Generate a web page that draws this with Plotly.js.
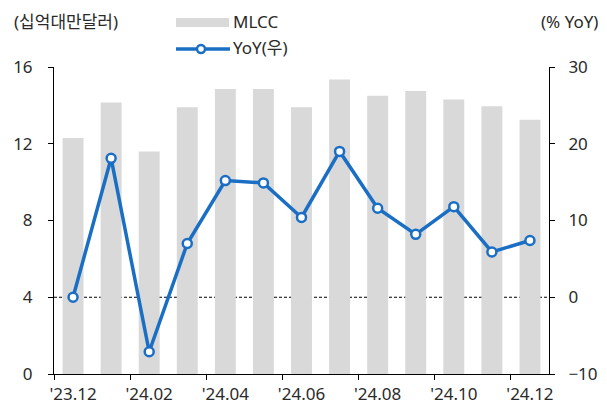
<!DOCTYPE html>
<html>
<head>
<meta charset="utf-8">
<script src="https://cdn.plot.ly/plotly-3.0.1.min.js"></script>
<style>
  html, body { margin: 0; padding: 0; background: #fff; }
  #chart { width: 607px; height: 405px; }
</style>
</head>
<body>
<div id="chart"></div>
<script>
// Monthly MLCC revenue (billion TWD) and its year-over-year change (%)
const months = ["'23.12", "'24.01", "'24.02", "'24.03", "'24.04", "'24.05", "'24.06",
                "'24.07", "'24.08", "'24.09", "'24.10", "'24.11", "'24.12"];
const mlcc = [12.3, 14.15, 11.6, 13.9, 14.85, 14.85, 13.9, 15.35, 14.5, 14.75, 14.3, 13.95, 13.25];
const yoy  = [0.0, 18.1, -7.1, 7.0, 15.2, 14.9, 10.4, 19.0, 11.6, 8.2, 11.8, 5.9, 7.4];

const FONT = '"Noto Sans", "Noto Sans CJK KR", sans-serif';
const BLUE = '#1a6fc4';
const GREY = '#d9d9d9';
const TXT = '#2a2a2a';
const FS = 17;
const tf = () => ({ family: FONT, size: FS, color: TXT, weight: 400 });

const traces = [
  {
    type: 'bar', name: 'MLCC', x: months, y: mlcc, yaxis: 'y',
    marker: { color: GREY }, showlegend: false
  },
  {
    type: 'scatter', mode: 'lines+markers', name: 'YoY(우)', x: months, y: yoy, yaxis: 'y2',
    line: { color: BLUE, width: 3.5 },
    marker: { color: '#ffffff', size: 9, line: { color: BLUE, width: 2.5 } },
    showlegend: false
  }
];

// Hand-placed legend (paper coordinates)
const px = (v) => (v - 54) / 495;      // pixel x -> paper x
const py = (v) => (374 - v) / 307;     // pixel y -> paper y

const layout = {
  width: 607, height: 405,
  margin: { l: 54, r: 58, t: 67, b: 31 },
  paper_bgcolor: '#ffffff', plot_bgcolor: '#ffffff',
  font: tf(),
  showlegend: false,
  bargap: 0.45,
  xaxis: {
    type: 'category', range: [-0.5, 12.5], automargin: false,
    tickmode: 'linear', tick0: 0, dtick: 2, tickangle: 0,
    tickson: 'boundaries', ticks: 'outside', ticklen: 5, tickcolor: '#000',
    ticklabelstandoff: 5,
    showline: true, linecolor: '#000', linewidth: 1,
    showgrid: false, zeroline: false,
    tickfont: tf()
  },
  yaxis: {
    range: [0, 16], dtick: 4, tick0: 0, automargin: false,
    ticks: 'outside', ticklen: 5, tickcolor: '#000',
    ticklabelstandoff: 12,
    showline: true, linecolor: '#000', linewidth: 1,
    showgrid: false, zeroline: false,
    tickfont: tf()
  },
  yaxis2: {
    range: [-10, 30], dtick: 10, tick0: -10, automargin: false,
    overlaying: 'y', side: 'right',
    ticks: 'outside', ticklen: 5, tickcolor: '#000',
    ticklabelstandoff: 10,
    showline: true, linecolor: '#000', linewidth: 1,
    showgrid: false, zeroline: false,
    tickfont: tf()
  },
  shapes: [
    { type: 'line', xref: 'paper', x0: 0, x1: 1, yref: 'y2', y0: 0, y1: 0,
      line: { color: '#000', width: 1, dash: '3px,2px' }, layer: 'below' },
    // legend swatches
    { type: 'rect', xref: 'paper', yref: 'paper',
      x0: px(176), x1: px(229), y0: py(27), y1: py(18),
      fillcolor: GREY, line: { width: 0 } },
    { type: 'line', xref: 'paper', yref: 'paper',
      x0: px(176), x1: px(230), y0: py(49), y1: py(49),
      line: { color: BLUE, width: 3.5 } },
    { type: 'circle', xref: 'paper', yref: 'paper',
      x0: px(197), x1: px(205), y0: py(53), y1: py(45),
      fillcolor: '#ffffff', line: { color: BLUE, width: 2.5 } }
  ],
  annotations: [
    { text: '(십억대만달러)', xref: 'paper', yref: 'paper', x: px(12), y: py(22),
      xanchor: 'left', yanchor: 'middle', showarrow: false, font: tf() },
    { text: '(% YoY)', xref: 'paper', yref: 'paper', x: px(600), y: py(22),
      xanchor: 'right', yanchor: 'middle', showarrow: false, font: tf() },
    { text: 'MLCC', xref: 'paper', yref: 'paper', x: px(231), y: py(22),
      xanchor: 'left', yanchor: 'middle', showarrow: false, font: tf() },
    { text: 'YoY(우)', xref: 'paper', yref: 'paper', x: px(231), y: py(48),
      xanchor: 'left', yanchor: 'middle', showarrow: false, font: tf() }
  ]
};

Plotly.newPlot('chart', traces, layout, { displayModeBar: false, staticPlot: true });
</script>
</body>
</html>
